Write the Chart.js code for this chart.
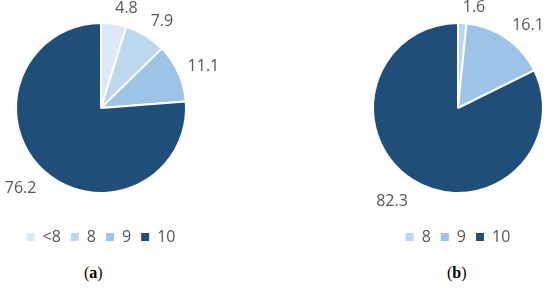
<!DOCTYPE html>
<html>
<head>
<meta charset="utf-8">
<script src="https://cdn.jsdelivr.net/npm/chart.js@4.4.1/dist/chart.umd.min.js"></script>
<style>
  html, body { margin: 0; padding: 0; background: #fff; }
  body { width: 550px; height: 288px; position: relative; overflow: hidden; }
  .box { position: absolute; width: 275px; height: 258px; top: -3px; }
  .cap { position: absolute; top: 264px; font-family: "Liberation Serif", serif; font-size: 16px; color: #000; }
</style>
</head>
<body>
<div class="box" style="left:0"><canvas id="chartA" width="275" height="258"></canvas></div>
<div class="box" style="left:275px"><canvas id="chartB" width="275" height="258"></canvas></div>
<div class="cap" style="left:84px">(<b>a</b>)</div>
<div class="cap" style="left:447px">(<b>b</b>)</div>
<script>
const labelsA = ['<8', '8', '9', '10'];
const valuesA = [4.8, 7.9, 11.1, 76.2];

const labelsB = ['8', '9', '10'];
const valuesB = [1.6, 16.1, 82.3];

const sliceColors = { '<8': '#dde9f6', '8': '#bdd7ee', '9': '#9dc3e6', '10': '#1f4e79' };
const textColor = '#555555';

// value labels just outside each slice, like the office "outside end" labels
const outsideLabels = {
  id: 'outsideLabels',
  afterDatasetsDraw(chart) {
    const ctx = chart.ctx;
    const ds = chart.data.datasets[0];
    const meta = chart.getDatasetMeta(0);
    ctx.save();
    ctx.font = '16px "Open Sans"';
    ctx.fillStyle = textColor;
    ctx.textBaseline = 'middle';
    meta.data.forEach((arc, i) => {
      const p = arc.getProps(['x', 'y', 'startAngle', 'endAngle', 'outerRadius'], true);
      const mid = (p.startAngle + p.endAngle) / 2;
      const c = Math.cos(mid), s = Math.sin(mid);
      const ax = p.x + c * (p.outerRadius + 10);
      const ay = p.y + s * (p.outerRadius + 10);
      ctx.textAlign = c >= 0 ? 'left' : 'right';
      ctx.fillText(ds.data[i].toFixed(1), ax, ay + s * (s > 0 ? 15 : 6));
    });
    ctx.restore();
  }
};

function makePie(id, labels, values, padLeft, padRight) {
  return new Chart(document.getElementById(id), {
    type: 'pie',
    data: {
      labels: labels,
      datasets: [{
        data: values,
        backgroundColor: labels.map(l => sliceColors[l]),
        borderColor: '#ffffff',
        borderWidth: 2
      }]
    },
    options: {
      responsive: false,
      animation: false,
      layout: { padding: { left: padLeft, right: padRight, top: 0, bottom: 0 } },
      plugins: {
        legend: {
          position: 'bottom',
          labels: {
            boxWidth: 8,
            boxHeight: 8,
            padding: 10,
            color: textColor,
            font: { family: 'Open Sans', size: 16 },
            generateLabels(chart) {
              // no white outline round the legend squares
              return Chart.controllers.pie.overrides.plugins.legend.labels.generateLabels(chart)
                .map(item => Object.assign(item, { lineWidth: 0 }));
            }
          }
        },
        tooltip: { enabled: false }
      }
    },
    plugins: [outsideLabels]
  });
}

makePie('chartA', labelsA, valuesA, 15, 88);
makePie('chartB', labelsB, valuesB, 97, 6);
</script>
</body>
</html>
